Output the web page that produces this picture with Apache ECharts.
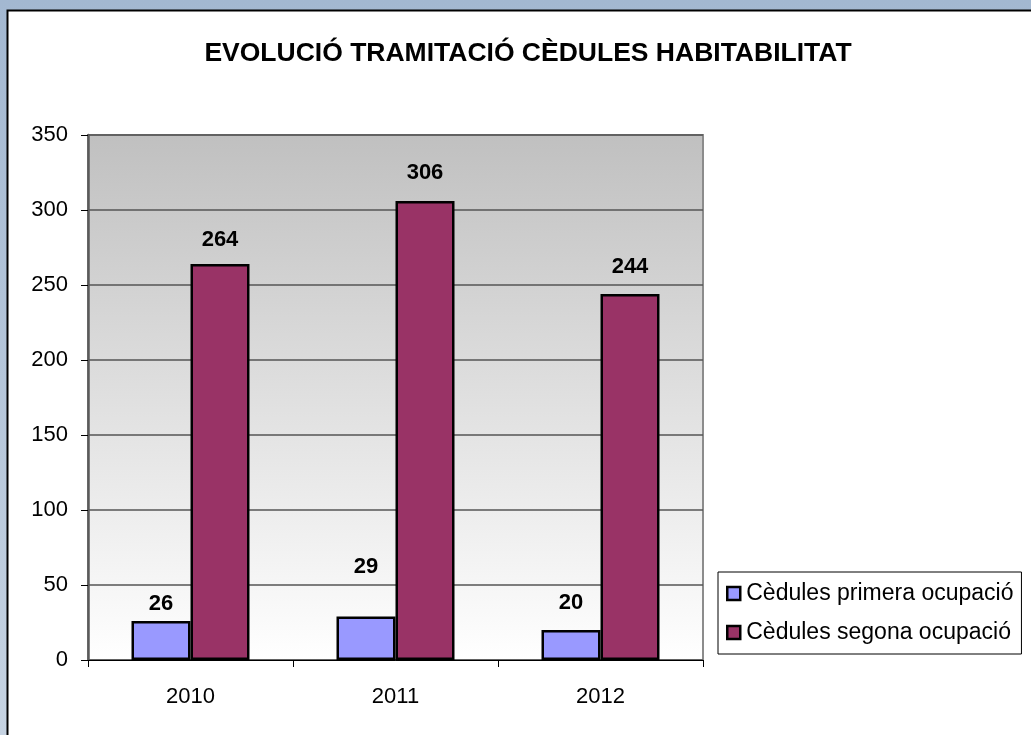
<!DOCTYPE html>
<html>
<head>
<meta charset="utf-8">
<script src="https://cdn.jsdelivr.net/npm/echarts@6/dist/echarts.min.js"></script>
<style>
  html, body { margin: 0; padding: 0; background: #a4b8d1; }
  #chart { width: 1031px; height: 735px; }
</style>
</head>
<body>
<div id="chart"></div>
<script>
// dades
var anys = ['2010', '2011', '2012'];
var primeraOcupacio = [26, 29, 20];
var segonaOcupacio = [264, 306, 244];
var nomsSeries = ['Cèdules primera ocupació', 'Cèdules segona ocupació'];

// distancia de les etiquetes sobre cada barra (estil)
var distPrimera = [6, 39, 16];
var distSegona = [13, 17, 16];

var FONT = '"Liberation Sans", Arial, sans-serif';

function punts(valors, dist) {
  return valors.map(function (v, i) {
    return { value: v, label: { distance: dist[i] } };
  });
}

var chart = echarts.init(document.getElementById('chart'));

chart.setOption({
  animation: false,
  backgroundColor: 'transparent',
  textStyle: { fontFamily: FONT },
  graphic: [
    // fons blau de la diapositiva
    {
      type: 'rect', z: -10, silent: true,
      shape: { x: 0, y: 0, width: 1031, height: 735 },
      style: {
        fill: new echarts.graphic.LinearGradient(0, 0, 0, 1, [
          { offset: 0, color: '#a3b8d1' },
          { offset: 1, color: '#c6d3e2' }
        ])
      }
    },
    // panell blanc
    {
      type: 'rect', z: -9, silent: true,
      shape: { x: 7.5, y: 10.5, width: 1040, height: 740 },
      style: { fill: '#ffffff', stroke: '#000000', lineWidth: 2 }
    }
  ],
  title: {
    text: 'EVOLUCIÓ TRAMITACIÓ CÈDULES HABITABILITAT',
    left: 523,
    top: 35,
    textAlign: 'center',
    textStyle: { fontFamily: FONT, fontSize: 26.5, fontWeight: 'bold', color: '#000' }
  },
  legend: {
    orient: 'vertical',
    left: 718,
    top: 572,
    padding: [10, 8, 10, 8],
    itemGap: 16,
    itemWidth: 13,
    itemHeight: 13,
    icon: 'rect',
    borderColor: '#000',
    borderWidth: 1,
    backgroundColor: '#fff',
    textStyle: { fontFamily: FONT, fontSize: 23, color: '#000', padding: [0, 0, 0, 1] },
    itemStyle: { borderColor: '#000', borderWidth: 2.5 },
    data: nomsSeries
  },
  grid: {
    left: 88,
    top: 135,
    width: 615,
    height: 525,
    show: true,
    borderColor: '#8c8c8c',
    borderWidth: 2,
    backgroundColor: new echarts.graphic.LinearGradient(0, 0, 0, 1, [
      { offset: 0, color: '#c0c0c0' },
      { offset: 1, color: '#ffffff' }
    ])
  },
  xAxis: {
    type: 'category',
    data: anys,
    axisLine: { lineStyle: { color: '#000', width: 1 } },
    axisTick: { show: true, length: 7, lineStyle: { color: '#000' } },
    axisLabel: { fontFamily: FONT, fontSize: 22, color: '#000', margin: 26 }
  },
  yAxis: {
    type: 'value',
    min: 0,
    max: 350,
    interval: 50,
    axisLine: { show: true, lineStyle: { color: '#5a5a5a', width: 2.5 } },
    axisTick: { show: true, length: 7, lineStyle: { color: '#000' } },
    axisLabel: { fontFamily: FONT, fontSize: 22, color: '#000', margin: 20 },
    splitLine: { lineStyle: { color: '#555555', width: 1.5 } }
  },
  series: [
    {
      name: nomsSeries[0],
      type: 'bar',
      barWidth: 59,
      barGap: '0%',
      data: punts(primeraOcupacio, distPrimera),
      itemStyle: { color: '#9999ff', borderColor: '#000', borderWidth: 2.5 },
      label: {
        show: true, position: 'top',
        fontFamily: FONT, fontSize: 22, fontWeight: 'bold', color: '#000'
      }
    },
    {
      name: nomsSeries[1],
      type: 'bar',
      barWidth: 59,
      barGap: '0%',
      data: punts(segonaOcupacio, distSegona),
      itemStyle: { color: '#993366', borderColor: '#000', borderWidth: 2.5 },
      label: {
        show: true, position: 'top',
        fontFamily: FONT, fontSize: 22, fontWeight: 'bold', color: '#000'
      }
    }
  ]
});
</script>
</body>
</html>
